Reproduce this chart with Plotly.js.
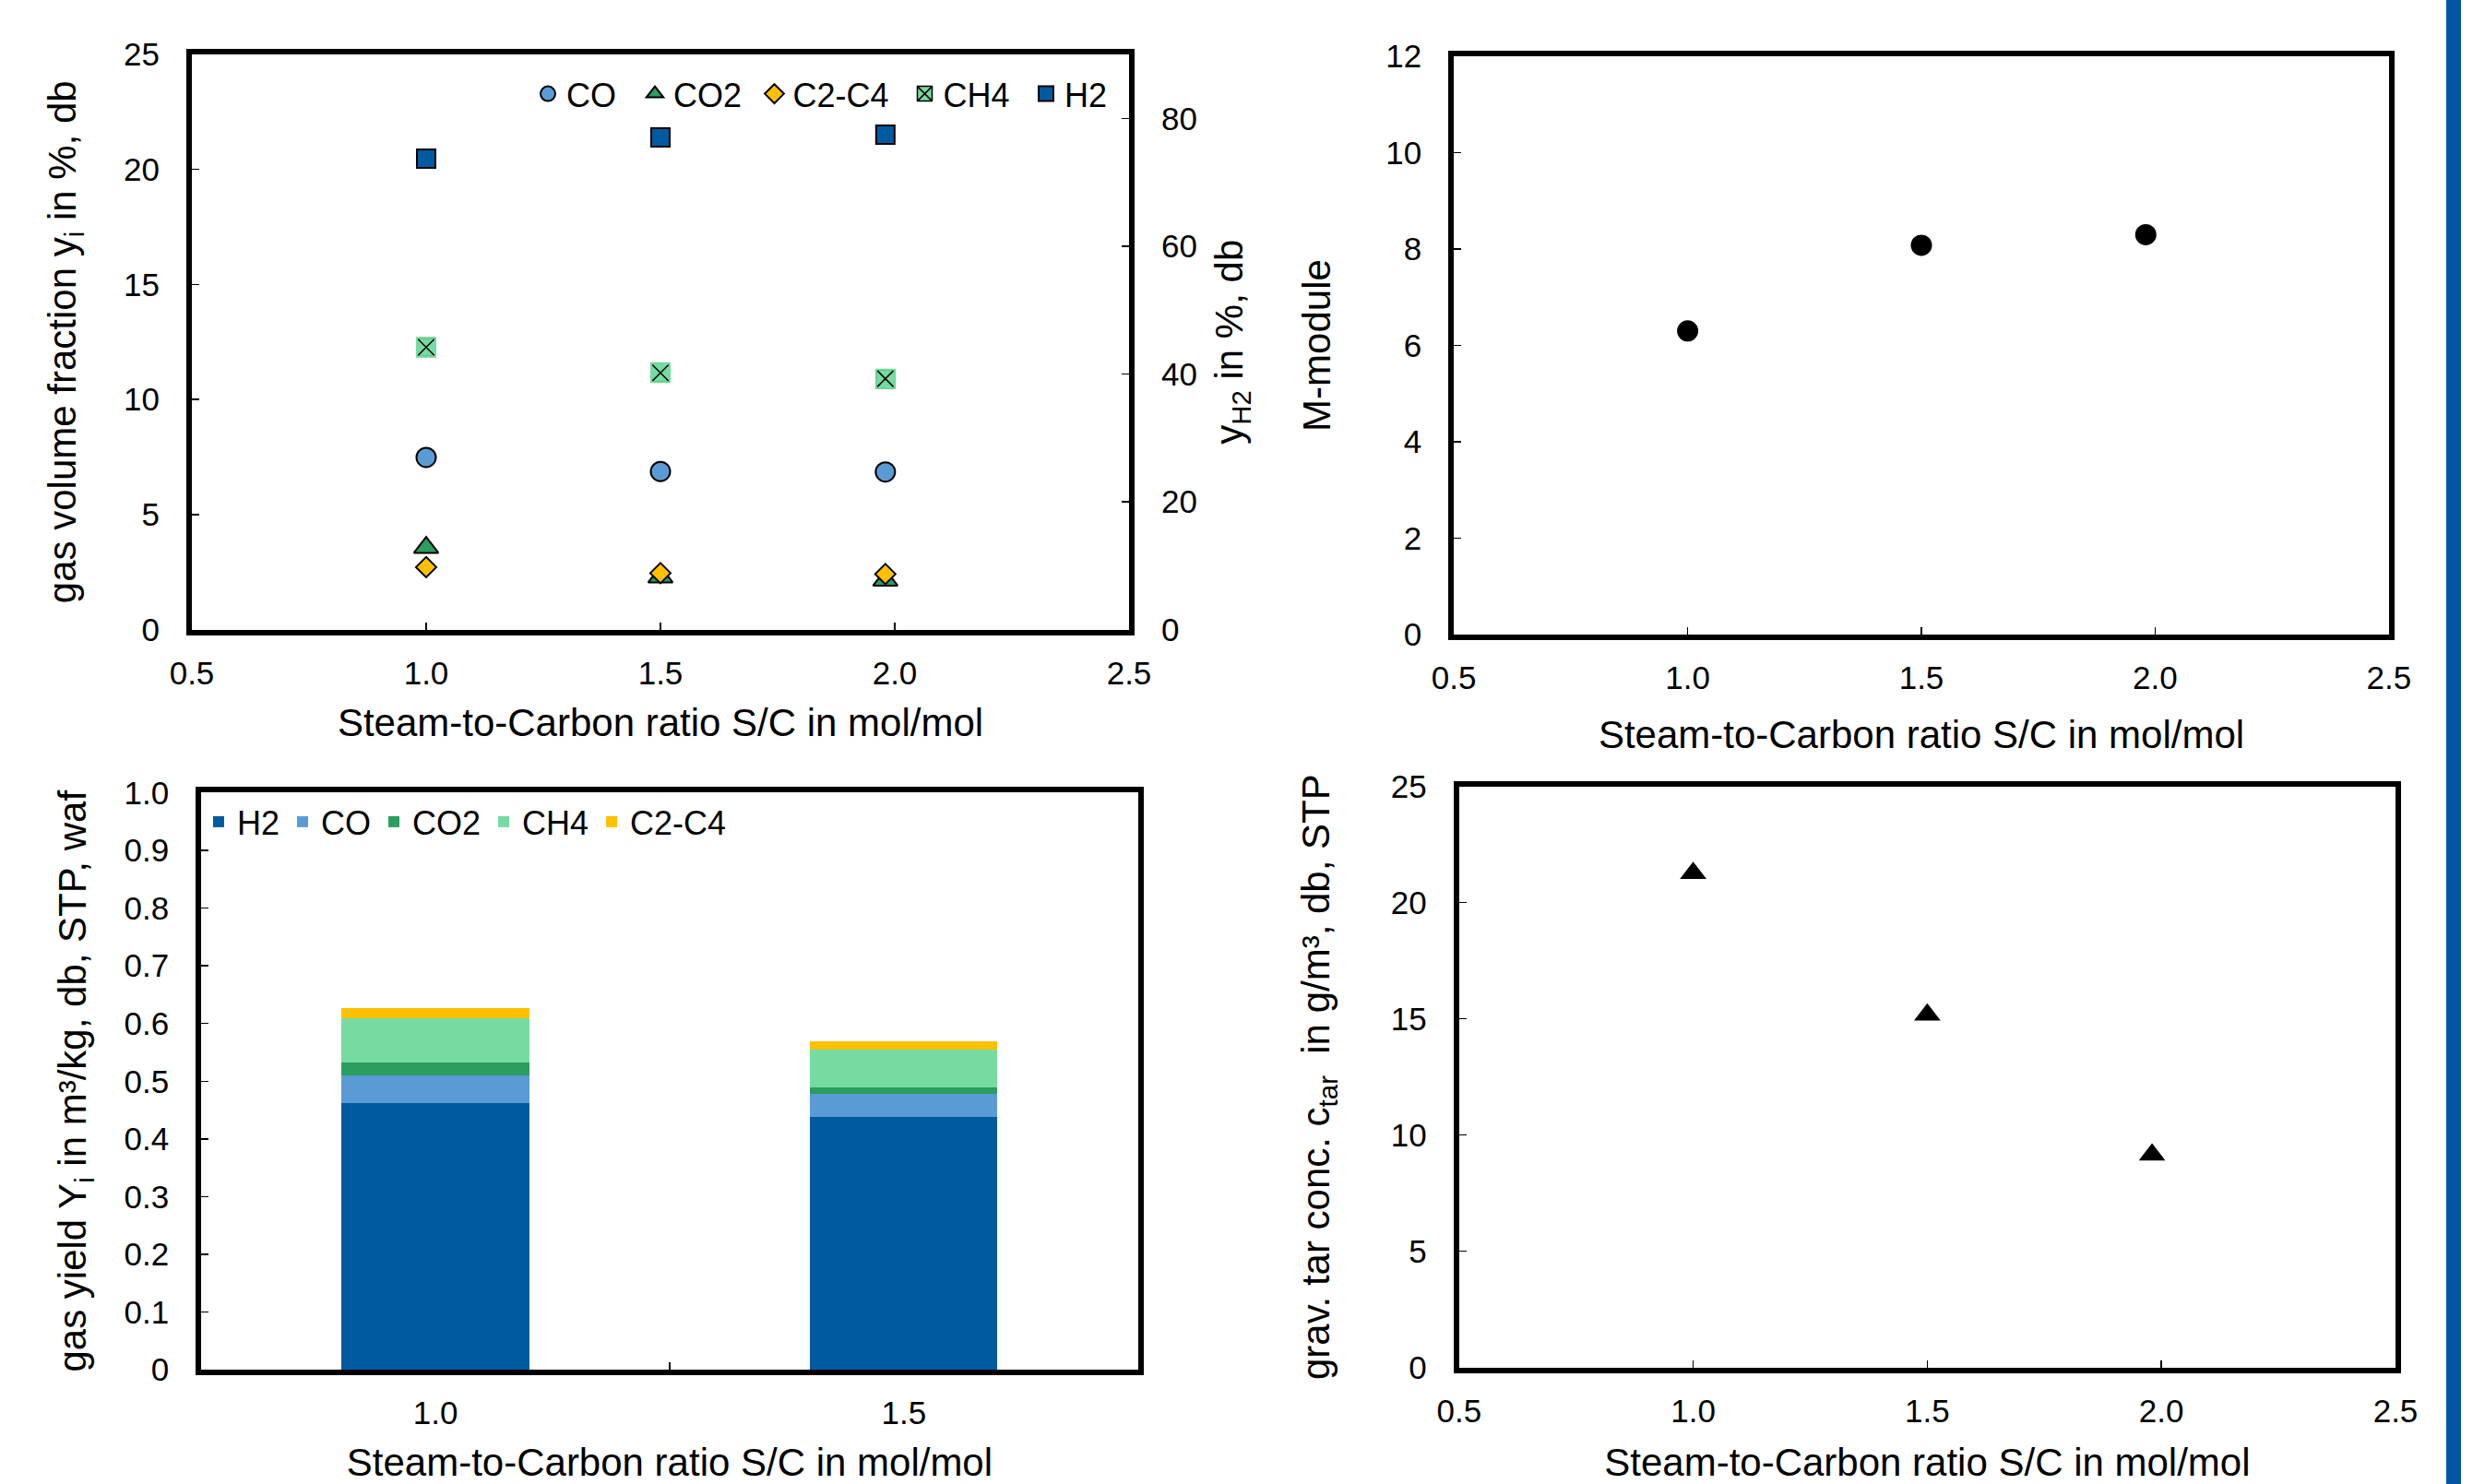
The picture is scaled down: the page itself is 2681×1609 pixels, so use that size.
<!DOCTYPE html>
<html>
<head>
<meta charset="utf-8">
<script src="https://cdn.plot.ly/plotly-3.0.1.min.js"></script>
<style>html,body{margin:0;padding:0;background:#fff;}#chart{width:2681px;height:1609px;}</style>
</head>
<body>
<div id="chart"></div>
<script>
// ---- data ----
const scRatio = [1.0, 1.5, 1.98];
// panel 1: gas volume fraction (left axis) and H2 (right axis), %, db
const fracCO = [7.48, 6.87, 6.85];
const fracCO2 = [3.56, 2.28, 2.14];
const fracC2C4 = [2.71, 2.45, 2.41];
const fracCH4 = [12.27, 11.16, 10.90];
const fracH2 = [73.7, 77.0, 77.45];
// panel 2: M-module
const mModule = [6.30, 8.08, 8.30];
// panel 3: gas yield, m3/kg db STP waf
const yieldCats = ['1.0', '1.5'];
const yieldH2 = [0.462, 0.438];
const yieldCO = [0.048, 0.040];
const yieldCO2 = [0.023, 0.012];
const yieldCH4 = [0.076, 0.064];
const yieldC2C4 = [0.018, 0.015];
const yieldTickVals = [0, 0.1, 0.2, 0.3, 0.4, 0.5, 0.6, 0.7, 0.8, 0.9, 1.0];
const yieldTickText = ['0', '0.1', '0.2', '0.3', '0.4', '0.5', '0.6', '0.7', '0.8', '0.9', '1.0'];
// panel 4: gravimetric tar concentration, g/m3
const tarConc = [21.26, 15.17, 9.15];

// ---- styles ----
const FONT = 'Liberation Sans, Arial, sans-serif';
const C_H2 = '#005AA0', C_CO = '#5B9BD5', C_CO2 = '#2A9D5F', C_CH4 = '#75DBA0', C_C2 = '#FFC000';
const TICKF = 35, TITLEF = 42, LEGF = 36;
const xTitle = 'Steam-to-Carbon ratio S/C in mol/mol';

function axisBase(extra) {
  return Object.assign({
    ticks: 'inside', ticklen: 8, tickwidth: 1.5, tickcolor: '#000',
    showline: true, linewidth: 6, linecolor: '#000',
    showgrid: false, zeroline: false,
    tickfont: {size: TICKF, color: '#000', family: FONT},
    ticklabelstandoff: 22
  }, extra);
}

const W = 2681, H = 1609;
const dx = (a, b) => [a / W, b / W];
const dy = (top, bottom) => [1 - bottom / H, 1 - top / H];

const lineBlk = {color: '#000', width: 2};

const traces = [
  {type: 'scatter', mode: 'markers', name: 'CO', x: scRatio, y: fracCO, xaxis: 'x', yaxis: 'y', legend: 'legend',
   marker: {symbol: 'circle', size: 21, color: C_CO, line: lineBlk}},
  {type: 'scatter', mode: 'markers', name: 'CO2', x: scRatio, y: fracCO2, xaxis: 'x', yaxis: 'y', legend: 'legend3',
   marker: {symbol: 'triangle-up', size: 23, color: C_CO2, line: lineBlk}},
  {type: 'scatter', mode: 'markers', name: 'C2-C4', x: scRatio, y: fracC2C4, xaxis: 'x', yaxis: 'y', legend: 'legend4',
   marker: {symbol: 'diamond', size: 17, color: C_C2, line: lineBlk}},
  {type: 'scatter', mode: 'markers', name: 'CH4', x: scRatio, y: fracCH4, xaxis: 'x', yaxis: 'y', legend: 'legend5',
   marker: {symbol: 'square-x', size: 20, color: C_CH4, line: {color: '#000', width: 1.5}}},
  {type: 'scatter', mode: 'markers', name: 'CH4', x: scRatio, y: fracCH4, xaxis: 'x', yaxis: 'y', showlegend: false, hoverinfo: 'skip',
   marker: {symbol: 'square-open', size: 20, color: C_CH4, line: {color: C_CH4, width: 2}}},
  {type: 'scatter', mode: 'markers', name: 'H2', x: scRatio, y: fracH2, xaxis: 'x', yaxis: 'y2', legend: 'legend6',
   marker: {symbol: 'square', size: 20, color: C_H2, line: lineBlk}},

  {type: 'scatter', mode: 'markers', name: 'M-module', x: scRatio, y: mModule, xaxis: 'x2', yaxis: 'y3', showlegend: false,
   marker: {symbol: 'circle', size: 23, color: '#000'}},

  {type: 'bar', name: 'H2', x: yieldCats, y: yieldH2, xaxis: 'x3', yaxis: 'y4', legend: 'legend2', marker: {color: C_H2}},
  {type: 'bar', name: 'CO', x: yieldCats, y: yieldCO, xaxis: 'x3', yaxis: 'y4', legend: 'legend2', marker: {color: C_CO}},
  {type: 'bar', name: 'CO2', x: yieldCats, y: yieldCO2, xaxis: 'x3', yaxis: 'y4', legend: 'legend2', marker: {color: C_CO2}},
  {type: 'bar', name: 'CH4', x: yieldCats, y: yieldCH4, xaxis: 'x3', yaxis: 'y4', legend: 'legend2', marker: {color: C_CH4}},
  {type: 'bar', name: 'C2-C4', x: yieldCats, y: yieldC2C4, xaxis: 'x3', yaxis: 'y4', legend: 'legend2', marker: {color: C_C2}},

  {type: 'scatter', mode: 'markers', name: 'tar', x: scRatio, y: tarConc, xaxis: 'x4', yaxis: 'y5', showlegend: false,
   marker: {symbol: 'triangle-up', size: 25, color: '#000'}}
];

const titleFont = {size: TITLEF, color: '#000', family: FONT};

function topLegend(px) {
  return {orientation: 'h', x: px / W, xanchor: 'left', y: 1 - 101.7 / H, yanchor: 'middle',
    bgcolor: 'rgba(0,0,0,0)', borderwidth: 0, font: {size: LEGF, color: '#000', family: FONT}};
}

const layout = {
  width: W, height: H,
  margin: {l: 0, r: 0, t: 0, b: 0},
  paper_bgcolor: '#fff', plot_bgcolor: 'rgba(0,0,0,0)',
  font: {family: FONT, size: TICKF, color: '#000'},
  showlegend: true,
  barmode: 'stack', bargap: 0.6,
  // panel 1
  xaxis: axisBase({domain: dx(208, 1224), anchor: 'y', range: [0.5, 2.5], tick0: 0.5, dtick: 0.5, tickformat: '.1f', mirror: true,
    ticklabelstandoff: 11, title: {text: xTitle, font: titleFont, standoff: 23}}),
  yaxis: axisBase({domain: dy(59, 682.5), anchor: 'x', range: [0, 25], dtick: 5, mirror: true,
    title: {text: 'gas volume fraction y<sub>i</sub> in %, db', font: titleFont, standoff: 40}}),
  yaxis2: axisBase({overlaying: 'y', anchor: 'x', side: 'right', range: [0, 90], dtick: 20,
    title: {text: 'y<sub>H2</sub> in %, db', font: titleFont, standoff: 23}}),
  // panel 2
  xaxis2: axisBase({domain: dx(1576.2, 2589.8), anchor: 'y3', range: [0.5, 2.5], tick0: 0.5, dtick: 0.5, tickformat: '.1f', mirror: true,
    ticklabelstandoff: 11, title: {text: xTitle, font: titleFont, standoff: 31}}),
  yaxis3: axisBase({domain: dy(61.2, 687.8), anchor: 'x2', range: [0, 12], dtick: 2, mirror: true,
    title: {text: 'M-module', font: titleFont, standoff: 49}}),
  // panel 3
  xaxis3: axisBase({domain: dx(218.1, 1233.8), anchor: 'y4', type: 'category', range: [-0.5, 1.5], tickson: 'boundaries', mirror: true,
    ticklabelstandoff: 11, title: {text: xTitle, font: titleFont, standoff: 32}}),
  yaxis4: axisBase({domain: dy(859.3, 1485.2), anchor: 'x3', range: [0, 1.0], tickmode: 'array', tickvals: yieldTickVals, ticktext: yieldTickText, mirror: true,
    title: {text: 'gas yield Y<sub>i</sub> in m³/kg, db, STP, waf', font: titleFont, standoff: 30}}),
  // panel 4
  xaxis4: axisBase({domain: dx(1581.8, 2597), anchor: 'y5', range: [0.5, 2.5], tick0: 0.5, dtick: 0.5, tickformat: '.1f', mirror: true,
    ticklabelstandoff: 11, title: {text: xTitle, font: titleFont, standoff: 38}}),
  yaxis5: axisBase({domain: dy(852.6, 1482.7), anchor: 'x4', range: [0, 25], dtick: 5, mirror: true,
    title: {text: 'grav. tar conc. c<sub>tar</sub>  in g/m³, db, STP', font: titleFont, standoff: 55}}),
  // legends of panel 1 (one entry each, placed like the reference)
  legend: topLegend(574),
  legend3: topLegend(690),
  legend4: topLegend(819.5),
  legend5: topLegend(982.5),
  legend6: topLegend(1114),
  // legend of panel 3
  legend2: {orientation: 'h', x: 217 / W, xanchor: 'left', y: 1 - 891 / H, yanchor: 'middle',
    bgcolor: 'rgba(0,0,0,0)', borderwidth: 0, font: {size: LEGF, color: '#000', family: FONT}, traceorder: 'normal'},
  shapes: [
    {type: 'rect', xref: 'paper', yref: 'paper', x0: 2652 / W, x1: 2668 / W, y0: 0, y1: 1,
     fillcolor: '#0056A0', line: {width: 0}, layer: 'above'}
  ]
};

Plotly.newPlot('chart', traces, layout, {displayModeBar: false, staticPlot: true});
</script>
</body>
</html>
